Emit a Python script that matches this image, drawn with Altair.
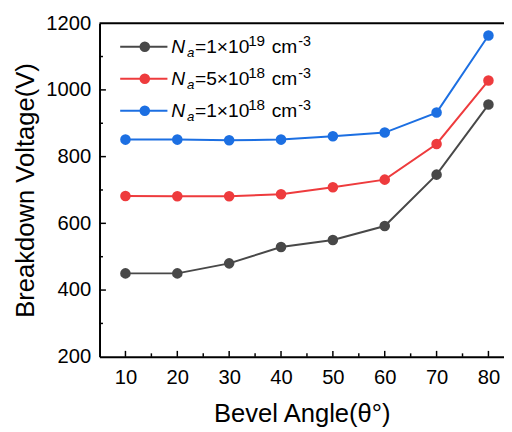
import altair as alt
import pandas as pd

angles = [10, 20, 30, 40, 50, 60, 70, 80]
v_1e19 = [450, 450, 480, 529, 550, 592, 746, 956]
v_5e18 = [682, 681, 681, 687, 708, 731, 838, 1028]
v_1e18 = [851, 851, 849, 851, 861, 872, 932, 1163]

series_names = ["1e19", "5e18", "1e18"]
series_colors = ["#484848", "#ee3b3d", "#1c6fe2"]
legend_mant = ["1", "5", "1"]
legend_exp = ["19", "18", "18"]

x_ticks_major = [10, 20, 30, 40, 50, 60, 70, 80]
x_ticks_minor = [15, 25, 35, 45, 55, 65, 75]
y_ticks_major = [400, 600, 800, 1000]
y_ticks_minor = [300, 500, 700, 900, 1100]
y_labels = [200, 400, 600, 800, 1000, 1200]

FONT = "Liberation Sans"
W, H = 411, 339

rows = []
for name, vals in zip(series_names, [v_1e19, v_5e18, v_1e18]):
    for a, v in zip(angles, vals):
        rows.append({"angle": a, "voltage": v, "series": name})
df = pd.DataFrame(rows)

x_scale = alt.Scale(domain=[5, 83], nice=False, zero=False)
y_scale = alt.Scale(domain=[200, 1200], nice=False, zero=False)

x_axis = alt.Axis(values=x_ticks_major, title="Bevel Angle(θ°)", ticks=False, grid=False, format="d",
                  labelFont=FONT, labelFontSize=20.5, labelColor="black", labelPadding=11,
                  titleFont=FONT, titleFontSize=26, titleFontWeight="normal", titleColor="black",
                  titlePadding=13, domainColor="black", domainWidth=2)
y_axis = alt.Axis(values=y_labels, title="Breakdown Voltage(V)", ticks=False, grid=False, format="d",
                  labelFont=FONT, labelFontSize=20.5, labelColor="black", labelPadding=9,
                  titleFont=FONT, titleFontSize=26, titleFontWeight="normal", titleColor="black",
                  titlePadding=7, domainColor="black", domainWidth=2)

X = alt.X("angle:Q", scale=x_scale, axis=x_axis)
Y = alt.Y("voltage:Q", scale=y_scale, axis=y_axis)
color = alt.Color("series:N", scale=alt.Scale(domain=series_names, range=series_colors), legend=None)

base = alt.Chart(df).encode(x=X, y=Y, color=color, detail="series:N")
lines = base.mark_line(strokeWidth=2)
points = base.mark_circle(size=115, opacity=1)

layers = [lines, points]

# top frame line
one = pd.DataFrame({"k": [0]})
layers.append(alt.Chart(one).mark_rule(color="black", strokeWidth=2).encode(
    x=alt.value(0), x2=alt.value(W), y=alt.value(0)))

# inward ticks
for vals, ln in [(x_ticks_major, 6), (x_ticks_minor, 3.5)]:
    layers.append(alt.Chart(pd.DataFrame({"angle": vals})).mark_rule(color="black", strokeWidth=1.5).encode(
        x=X, y=alt.value(H), y2=alt.value(H - ln)))
for vals, ln in [(y_ticks_major, 6.5), (y_ticks_minor, 3.5)]:
    layers.append(alt.Chart(pd.DataFrame({"voltage": vals})).mark_rule(color="black", strokeWidth=1.5).encode(
        y=Y, x=alt.value(0), x2=alt.value(ln)))

# custom legend
legend_rows = [24, 56.5, 89]
for i in range(3):
    c = legend_rows[i]
    col = series_colors[i]
    layers.append(alt.Chart(one).mark_rule(color=col, strokeWidth=2).encode(
        x=alt.value(21), x2=alt.value(69), y=alt.value(c)))
    layers.append(alt.Chart(one).mark_circle(color=col, size=115, opacity=1).encode(
        x=alt.value(46), y=alt.value(c)))
    pieces = [
        ("N", 73, c + 6, 19.5, "italic"),
        ("a", 89, c + 10, 13.5, "italic"),
        ("=" + legend_mant[i] + "×10", 97, c + 6, 19.5, "normal"),
        (legend_exp[i], 151, c - 1, 15.5, "normal"),
        ("cm", 175, c + 6, 19.5, "normal"),
        ("-3", 202, c - 1, 14.5, "normal"),
    ]
    for txt, px, py, fs, style in pieces:
        layers.append(alt.Chart(one).mark_text(align="left", baseline="alphabetic", font=FONT,
                                               fontSize=fs, fontStyle=style, color="black").encode(
            x=alt.value(px), y=alt.value(py), text=alt.value(txt)))

chart = alt.layer(*layers).properties(
    width=W, height=H,
    padding={"left": 93, "top": 12, "right": 0, "bottom": 72},
    autosize=alt.AutoSizeParams(type="none"),
).configure_view(stroke=None)

chart.save("out.html", embed_options={"renderer": "svg", "actions": False})
